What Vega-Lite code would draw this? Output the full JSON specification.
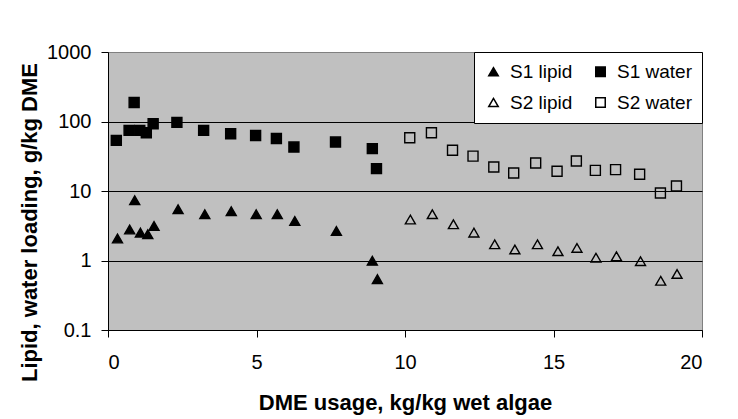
{
  "$schema": "https://vega.github.io/schema/vega-lite/v6.json",
  "width": 594,
  "height": 278,
  "autosize": {"type": "none"},
  "padding": {"left": 108, "top": 52, "right": 36, "bottom": 89},
  "background": "white",
  "config": {
    "font": "Liberation Sans",
    "view": {"fill": "#c0c0c0", "stroke": "#808080", "strokeWidth": 1}
  },
  "data": {
    "values": [
      {"x": 0.28, "y": 53.5, "series": "S1 water"},
      {"x": 0.71, "y": 74.5, "series": "S1 water"},
      {"x": 0.88, "y": 188, "series": "S1 water"},
      {"x": 1.07, "y": 74.5, "series": "S1 water"},
      {"x": 1.29, "y": 69, "series": "S1 water"},
      {"x": 1.52, "y": 93, "series": "S1 water"},
      {"x": 2.32, "y": 97, "series": "S1 water"},
      {"x": 3.22, "y": 74.5, "series": "S1 water"},
      {"x": 4.13, "y": 66.8, "series": "S1 water"},
      {"x": 4.97, "y": 63, "series": "S1 water"},
      {"x": 5.67, "y": 57, "series": "S1 water"},
      {"x": 6.26, "y": 42.9, "series": "S1 water"},
      {"x": 7.66, "y": 50.6, "series": "S1 water"},
      {"x": 8.9, "y": 40.7, "series": "S1 water"},
      {"x": 9.04, "y": 21, "series": "S1 water"},
      {"x": 10.16, "y": 58.5, "series": "S2 water"},
      {"x": 10.89, "y": 69, "series": "S2 water"},
      {"x": 11.6, "y": 38.5, "series": "S2 water"},
      {"x": 12.29, "y": 31.8, "series": "S2 water"},
      {"x": 12.99, "y": 22.1, "series": "S2 water"},
      {"x": 13.66, "y": 18.2, "series": "S2 water"},
      {"x": 14.4, "y": 25.3, "series": "S2 water"},
      {"x": 15.12, "y": 19.2, "series": "S2 water"},
      {"x": 15.77, "y": 27, "series": "S2 water"},
      {"x": 16.41, "y": 19.8, "series": "S2 water"},
      {"x": 17.09, "y": 20.3, "series": "S2 water"},
      {"x": 17.9, "y": 17.4, "series": "S2 water"},
      {"x": 18.6, "y": 9.35, "series": "S2 water"},
      {"x": 19.14, "y": 11.8, "series": "S2 water"},
      {"x": 0.32, "y": 2.07, "series": "S1 lipid"},
      {"x": 0.73, "y": 2.79, "series": "S1 lipid"},
      {"x": 0.9, "y": 7.35, "series": "S1 lipid"},
      {"x": 1.09, "y": 2.52, "series": "S1 lipid"},
      {"x": 1.34, "y": 2.39, "series": "S1 lipid"},
      {"x": 1.55, "y": 3.14, "series": "S1 lipid"},
      {"x": 2.36, "y": 5.46, "series": "S1 lipid"},
      {"x": 3.26, "y": 4.63, "series": "S1 lipid"},
      {"x": 4.15, "y": 5.11, "series": "S1 lipid"},
      {"x": 4.99, "y": 4.63, "series": "S1 lipid"},
      {"x": 5.7, "y": 4.63, "series": "S1 lipid"},
      {"x": 6.29, "y": 3.71, "series": "S1 lipid"},
      {"x": 7.69, "y": 2.66, "series": "S1 lipid"},
      {"x": 8.9, "y": 0.99, "series": "S1 lipid"},
      {"x": 9.07, "y": 0.54, "series": "S1 lipid"},
      {"x": 10.18, "y": 3.88, "series": "S2 lipid"},
      {"x": 10.92, "y": 4.63, "series": "S2 lipid"},
      {"x": 11.63, "y": 3.32, "series": "S2 lipid"},
      {"x": 12.32, "y": 2.52, "series": "S2 lipid"},
      {"x": 13.02, "y": 1.71, "series": "S2 lipid"},
      {"x": 13.7, "y": 1.44, "series": "S2 lipid"},
      {"x": 14.46, "y": 1.71, "series": "S2 lipid"},
      {"x": 15.15, "y": 1.36, "series": "S2 lipid"},
      {"x": 15.79, "y": 1.52, "series": "S2 lipid"},
      {"x": 16.43, "y": 1.1, "series": "S2 lipid"},
      {"x": 17.12, "y": 1.15, "series": "S2 lipid"},
      {"x": 17.93, "y": 0.98, "series": "S2 lipid"},
      {"x": 18.61, "y": 0.51, "series": "S2 lipid"},
      {"x": 19.16, "y": 0.64, "series": "S2 lipid"}
    ]
  },
  "mark": {"type": "point", "stroke": "black", "strokeWidth": 1.4, "opacity": 1, "size": 100},
  "encoding": {
    "x": {
      "field": "x", "type": "quantitative",
      "scale": {"domain": [0, 20], "nice": false, "zero": false},
      "axis": {
        "title": "DME usage, kg/kg wet algae",
        "values": [0, 5, 10, 15, 20],
        "grid": false,
        "domainColor": "black", "tickColor": "black", "tickSize": 7,
        "labelFontSize": 20, "labelColor": "black", "labelPadding": 15,
        "titleFontSize": 22, "titleFontWeight": "bold", "titleColor": "black", "titlePadding": 20
      }
    },
    "y": {
      "field": "y", "type": "quantitative",
      "scale": {"type": "log", "domain": [0.1, 1000], "nice": false},
      "axis": {
        "title": "Lipid, water loading, g/kg DME",
        "values": [0.1, 1, 10, 100, 1000],
        "format": "~g",
        "grid": true,
        "gridColor": {"condition": {"test": "datum.value >= 1000", "value": "#808080"}, "value": "black"},
        "gridWidth": 1, "gridOpacity": 1,
        "domainColor": "black", "tickColor": "black", "tickSize": 7,
        "labelFontSize": 20, "labelColor": "black", "labelPadding": 10,
        "titleFontSize": 22, "titleFontWeight": "bold", "titleColor": "black", "titlePadding": 5,
        "titleY": 170
      }
    },
    "shape": {
      "field": "series", "type": "nominal",
      "scale": {"domain": ["S1 lipid", "S2 lipid", "S1 water", "S2 water"], "range": ["triangle-up", "triangle-up", "square", "square"]},
      "legend": {
        "title": null, "orient": "top-right", "offset": 0, "columns": 2,
        "fillColor": "white", "strokeColor": "black", "padding": 10,
        "columnPadding": 18, "rowPadding": 11,
        "labelFontSize": 19, "labelColor": "black", "labelOffset": 7,
        "symbolSize": 90,
        "encode": {"symbols": {"update": {"stroke": {"value": "black"}, "strokeWidth": {"value": 1.3}, "opacity": {"value": 1}}}}
      }
    },
    "fill": {
      "field": "series", "type": "nominal",
      "scale": {"domain": ["S1 lipid", "S2 lipid", "S1 water", "S2 water"], "range": ["black", "transparent", "black", "transparent"]},
      "legend": {
        "title": null, "orient": "top-right", "offset": 0, "columns": 2,
        "fillColor": "white", "strokeColor": "black", "padding": 10,
        "columnPadding": 18, "rowPadding": 11,
        "labelFontSize": 19, "labelColor": "black", "labelOffset": 7,
        "symbolSize": 90,
        "encode": {"symbols": {"update": {"stroke": {"value": "black"}, "strokeWidth": {"value": 1.3}, "opacity": {"value": 1}}}}
      }
    }
  }
}
